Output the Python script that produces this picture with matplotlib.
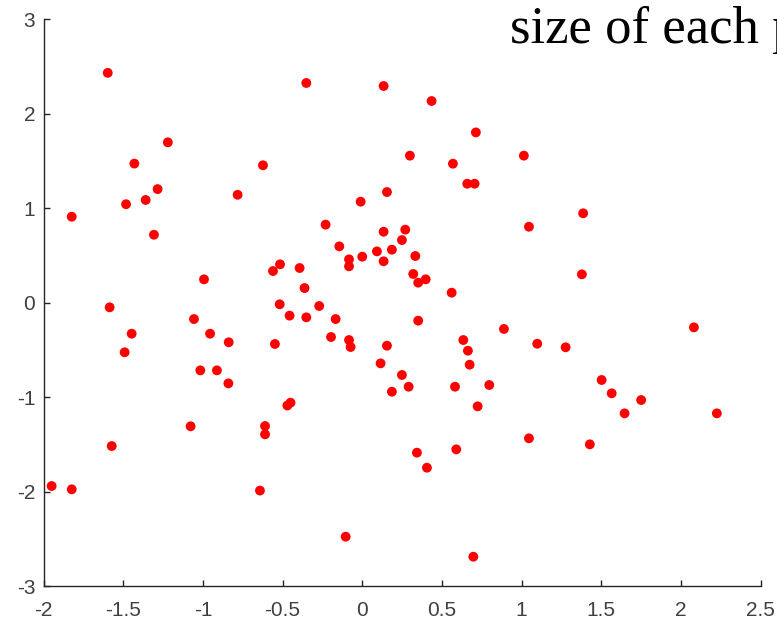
import matplotlib
matplotlib.use("Agg")
from matplotlib import pyplot as plt

# 100 random-looking samples, read point by point
x = [-1.597, -1.22, -1.43, -1.284, -0.782, -1.482, -1.359, -1.823, -1.307, -0.993,
     -1.585, -1.056, -1.447, -0.955, -0.838, -1.491, -1.016, -0.912, -0.84, -1.949,
     -1.823, -1.572, -1.077, -0.642, -0.351, 0.134, 0.435, 0.713, 0.299, 0.569,
     0.659, 0.705, -0.623, 0.155, -0.01, -0.23, 0.134, 0.27, 0.249, -0.144,
     0.092, 0.186, -0.083, -0.083, 0.0, 0.134, 0.333, -0.516, -0.56, -0.393,
     0.32, 0.351, 0.398, -0.362, 0.561, -0.518, -0.27, -0.456, -0.351, -0.167,
     0.351, -0.196, -0.083, -0.073, -0.548, 0.155, 0.634, 0.663, 0.674, 0.115,
     0.249, 0.291, 0.186, 0.582, 0.797, 1.378, 0.889, 2.081, 1.098, 1.276,
     1.502, 1.565, 1.75, 1.646, 2.225, 1.046, 1.428, 1.014, 1.386, 1.046,
     0.724, -0.47, -0.45, -0.61, -0.61, -0.104, 0.343, 0.406, 0.59, 0.697]
y = [2.43, 1.695, 1.47, 1.20, 1.14, 1.04, 1.085, 0.908, 0.717, 0.245,
     -0.051, -0.175, -0.33, -0.33, -0.421, -0.527, -0.718, -0.718, -0.856, -1.942,
     -1.977, -1.519, -1.31, -1.99, 2.323, 2.291, 2.132, 1.80, 1.554, 1.469,
     1.257, 1.257, 1.452, 1.169, 1.067, 0.824, 0.749, 0.771, 0.661, 0.594,
     0.541, 0.559, 0.457, 0.383, 0.485, 0.436, 0.492, 0.404, 0.333, 0.365,
     0.302, 0.21, 0.245, 0.153, 0.104, -0.019, -0.037, -0.139, -0.157, -0.175,
     -0.192, -0.365, -0.397, -0.471, -0.439, -0.457, -0.397, -0.51, -0.658, -0.644,
     -0.767, -0.891, -0.944, -0.891, -0.873, 0.298, -0.28, -0.263, -0.436, -0.474,
     -0.82, -0.961, -1.032, -1.173, -1.173, -1.437, -1.501, 1.554, 0.944, 0.802,
     -1.099, -1.09, -1.06, -1.307, -1.395, -2.478, -1.589, -1.748, -1.554, -2.69]

xticks = [-2, -1.5, -1, -0.5, 0, 0.5, 1, 1.5, 2, 2.5]
xtick_labels = ['-2', '-1.5', '-1', '-0.5', '0', '0.5', '1', '1.5', '2', '2.5']
yticks = [-3, -2, -1, 0, 1, 2, 3]
ytick_labels = ['-3', '-2', '-1', '0', '1', '2', '3']

plt.rcParams['font.family'] = ['Liberation Sans', 'DejaVu Sans']

fig = plt.figure(figsize=(7.77, 6.19), dpi=100)
ax = fig.add_axes([0.056, 0.0533, 0.923, 0.916])

ax.scatter(x, y, s=50, c='#ff0000', edgecolors='none')

ax.set_xlim(-2, 2.5)
ax.set_ylim(-3, 3)
ax.set_xticks(xticks)
ax.set_xticklabels(xtick_labels)
ax.set_yticks(yticks)
ax.set_yticklabels(ytick_labels)

for s in ['top', 'right']:
    ax.spines[s].set_visible(False)
for s in ['left', 'bottom']:
    ax.spines[s].set_color('#262626')
    ax.spines[s].set_linewidth(1.0)

ax.tick_params(axis='both', direction='in', length=4, width=1.0,
               color='#262626', labelcolor='#404040', labelsize=15)
ax.tick_params(axis='x', pad=11)
ax.tick_params(axis='y', pad=6)

fig.text(510 / 777, 1 - 43 / 619, 'size of each p', family='Liberation Serif',
         fontsize=38, color='black', va='baseline', ha='left')

plt.savefig('out.png', dpi=100)
